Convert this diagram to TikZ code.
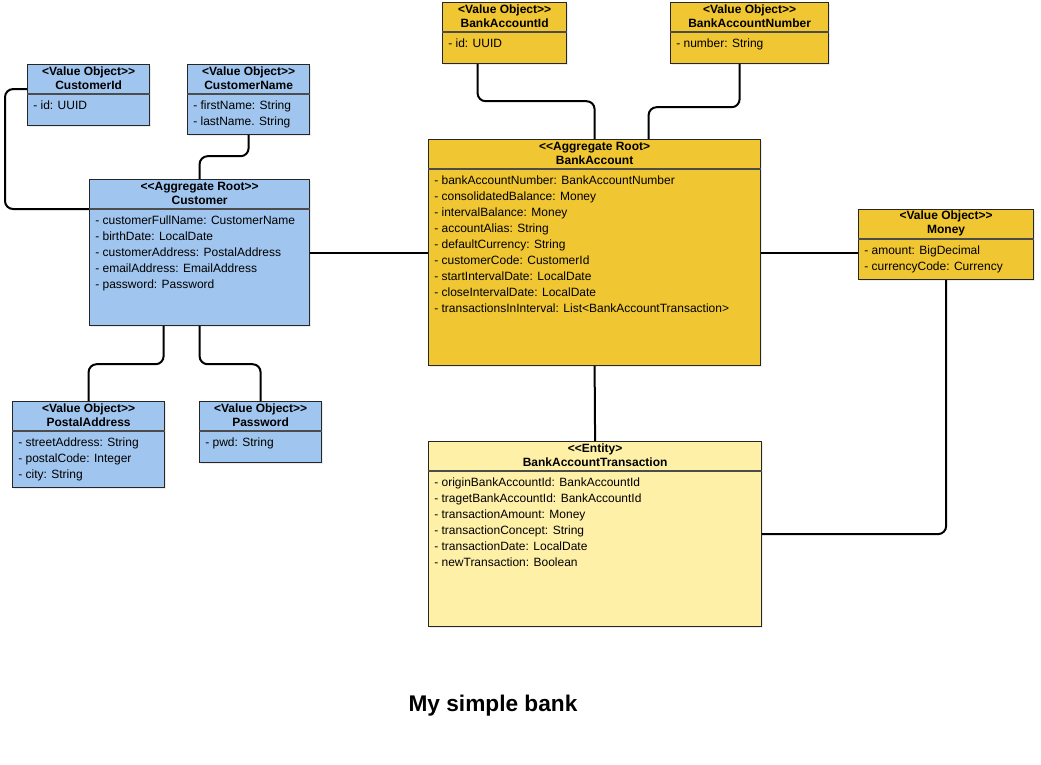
\documentclass[tikz,border=0pt]{standalone}
\usepackage{fontspec}
\setmainfont[Ligatures=TeXOff]{Liberation Sans}
\usetikzlibrary{calc,shadows}

\definecolor{custblue}{HTML}{A0C5EE}
\definecolor{bankgold}{HTML}{F0C632}
\definecolor{entityyellow}{HTML}{FFF0A8}

% name, x, y, width, height, fill, header, attributes
\newcommand{\umlclass}[8]{%
  \node[classbox, fill=#6, minimum width=#4*0.75pt, minimum height=#5*0.75pt] (#1) at (#2,#3) {};
  \coordinate (#1-div) at ($(#1.north west)+(0,30)$);
  \draw[divline] (#1-div) -- (#1-div -| #1.east);
  \node[headtext] (#1-head) at ($(#1.north)+(0,14.5)$) {#7};
  \foreach \attr [count=\i] in {#8}
    \node[attrtext] (#1-a\i) at ($(#1-div)+(6,16*\i-0.5)$) {\attr};
}

\begin{document}
\begin{tikzpicture}[
x=0.75pt, y=-0.75pt,
classbox/.style={
  draw=black!85,
  line width=0.9pt,
  anchor=north west,
  inner sep=0pt,
  drop shadow={shadow xshift=1.2pt, shadow yshift=-1.2pt, opacity=0.15}
  },
divline/.style={
  draw=black!70,
  line width=0.8pt
  },
headtext/.style={
  align=center,
  inner sep=0pt,
  font=\fontsize{9}{10.5}\selectfont\bfseries
  },
attrtext/.style={
  anchor=base west,
  inner sep=0pt,
  font=\fontsize{9}{12}\selectfont
  },
titletext/.style={
  inner sep=0pt,
  font=\fontsize{17}{20}\selectfont\bfseries
  },
link/.style={
  line width=1.5pt,
  rounded corners=6pt
  }
]
\useasboundingbox (0,0) rectangle (1041,764);

% customer side
\umlclass{cid}{27}{64}{122}{61}{custblue}{<Value Object>>\\CustomerId}{- id: UUID}
\umlclass{cname}{187}{64}{122}{70}{custblue}{<Value Object>>\\CustomerName}{- firstName: String, - lastName. String}
\umlclass{cust}{89}{179}{220}{146}{custblue}{<<Aggregate Root>>\\Customer}{- customerFullName: CustomerName, - birthDate: LocalDate, - customerAddress: PostalAddress, - emailAddress: EmailAddress, - password: Password}
\umlclass{paddr}{12}{401}{152}{86}{custblue}{<Value Object>>\\PostalAddress}{- streetAddress: String, - postalCode: Integer, - city: String}
\umlclass{pwd}{199}{401}{122}{61}{custblue}{<Value Object>>\\Password}{- pwd: String}

% bank account side
\umlclass{bid}{442}{2}{124}{61}{bankgold}{<Value Object>>\\BankAccountId}{- id: UUID}
\umlclass{bnum}{670}{2}{158}{61}{bankgold}{<Value Object>>\\BankAccountNumber}{- number: String}
\umlclass{bacc}{428}{139}{332}{226}{bankgold}{<<Aggregate Root>\\BankAccount}{- bankAccountNumber: BankAccountNumber, - consolidatedBalance: Money, - intervalBalance: Money, - accountAlias: String, - defaultCurrency: String, - customerCode: CustomerId, - startIntervalDate: LocalDate, - closeIntervalDate: LocalDate, - transactionsInInterval: List<BankAccountTransaction>}
\umlclass{money}{858}{209}{175}{70}{bankgold}{<Value Object>>\\Money}{- amount: BigDecimal, - currencyCode: Currency}
\umlclass{bat}{428}{441}{333}{185}{entityyellow}{<<Entity>\\BankAccountTransaction}{- originBankAccountId: BankAccountId, - tragetBankAccountId: BankAccountId, - transactionAmount: Money, - transactionConcept: String, - transactionDate: LocalDate, - newTransaction: Boolean}

% connectors
\draw[link] ($(cid.west)+(0,-6)$) -- ++(-22,0) |- (cust-div);
\draw[link] (cname.south) -- ++(0,21) -| (cust.north);
\draw[link] ($(cust.south)+(-36,0)$) -- ++(0,38) -| (paddr.north);
\draw[link] (cust.south) -- ++(0,38) -| (pwd.north);
\draw[link] (cust.east) -- (bacc.west);
\draw[link] ($(bid.south)+(-27,0)$) -- ++(0,37) -| (bacc.north);
\draw[link] ($(bnum.south)+(-10,0)$) -- ++(0,43) -| ($(bacc.north)+(54,0)$);
\draw[link] (bacc.east) -- (bacc.east -| money.west);
\draw[link] (bacc.south) -- (bat.north);
\draw[link] (money.south) |- (bat.east);

\node[titletext] (title) at (493,706) {My simple bank};

\end{tikzpicture}
\end{document}
